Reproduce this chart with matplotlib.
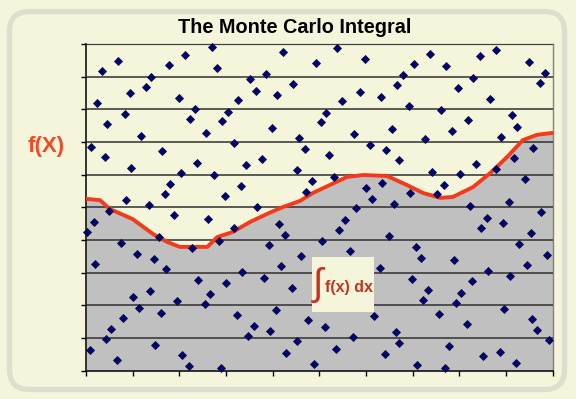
import matplotlib
matplotlib.use("Agg")
import matplotlib.pyplot as plt
from matplotlib.patches import FancyBboxPatch, Rectangle
import numpy as np

# ---------------- data ----------------
# random points thrown into the box
pts_x = [0.35, 0.69, 2.71, 2.12, 1.78, 2.81, 1.39, 1.29, 0.94, 0.24,
         1.99, 3.26, 2.34, 3.05, 0.83, 2.22, 2.92, 0.46, 2.58, 1.18,
         3.16, 0.10, 1.63, 0.40, 2.38, 0.97, 2.04, 2.74, 1.80, 3.31,
         1.69, 2.98, 0.86, 1.34,
         4.21, 5.38, 4.93, 5.97, 3.86, 3.51, 4.44, 6.66, 3.64, 4.10,
         5.86, 6.32, 5.49, 5.14, 5.04, 3.99, 6.56, 4.56, 5.74, 6.08,
         4.69, 6.43, 5.20, 3.78, 3.43, 6.71, 4.51, 5.31, 4.84, 4.72,
         6.00, 6.35, 6.13, 6.59, 3.67, 5.78,
         7.36, 8.44, 8.78, 7.02, 7.71, 9.49, 9.84, 6.80, 8.30, 9.73,
         7.96, 8.66, 6.91, 7.61, 9.13, 8.19, 9.24, 7.85, 7.26, 8.89,
         9.58, 9.17, 8.36, 7.42, 8.01, 8.79, 9.40, 7.66, 6.94, 7.53,
         9.06, 8.23,
         0.50, 0.17, 1.89, 2.62, 0.03, 3.17, 1.56, 0.76, 2.28, 2.85,
         0.19, 1.10, 1.45, 1.71, 3.34, 2.41, 3.00, 1.37, 1.01, 2.65,
         1.96, 1.13, 2.54, 1.61, 3.24, 0.79, 0.54, 0.43, 1.47, 0.09,
         2.06, 0.66, 2.21, 2.89,
         5.55, 4.13, 5.43, 4.26, 6.49, 5.05, 3.92, 5.65, 4.61, 4.18,
         6.30, 3.82, 4.41, 4.08, 6.16, 4.76, 3.59, 5.12, 6.64, 3.94,
         3.47, 5.71, 4.53, 6.70, 5.36, 4.29, 6.40, 4.89,
         9.74, 8.59, 8.94, 8.47, 9.54, 7.08, 9.28, 7.17, 7.88, 9.88,
         9.45, 8.62, 6.99, 9.08, 8.27, 7.33, 8.04, 7.23, 7.92, 8.96,
         7.57, 9.55, 8.16, 9.67, 7.78, 9.91, 8.86, 8.51, 9.21, 7.09,
         7.69]
pts_y = [9.18, 9.49, 9.92, 9.65, 9.36, 9.27, 9.00, 8.69, 8.51, 8.20,
         8.35, 8.28, 8.01, 7.93, 7.86, 7.70, 7.63, 7.54, 7.28, 7.19,
         6.98, 6.86, 6.72, 6.55, 6.36, 6.21, 6.05, 5.99, 5.71, 5.64,
         5.41, 5.34, 5.22, 5.07,
         9.76, 9.89, 9.42, 9.53, 9.08, 8.93, 8.78, 8.74, 8.57, 8.44,
         8.54, 8.39, 8.25, 7.90, 7.60, 7.43, 7.40, 7.13, 7.25, 6.90,
         6.79, 6.75, 6.59, 6.48, 6.29, 6.45, 6.14, 5.94, 5.81, 5.48,
         5.60, 5.75, 5.26, 5.11, 5.01, 4.99,
         9.69, 9.62, 9.81, 9.39, 9.32, 9.46, 9.12, 9.04, 8.97, 8.80,
         8.65, 8.31, 8.10, 7.97, 7.82, 7.66, 7.46, 7.33, 7.09, 7.16,
         6.82, 6.51, 6.32, 6.09, 6.02, 6.16, 5.88, 5.67, 5.45, 5.41,
         5.17, 5.05,
         4.90, 4.55, 4.77, 4.64, 4.25, 4.36, 4.10, 3.92, 3.76, 3.98,
         3.28, 3.57, 3.42, 3.11, 3.01, 2.78, 2.69, 2.44, 2.27, 2.35,
         2.12, 1.93, 2.04, 1.78, 1.70, 1.62, 1.28, 0.98, 0.79, 0.63,
         0.48, 0.32, 0.14, 0.07,
         4.61, 4.50, 4.31, 4.15, 4.12, 3.96, 3.86, 3.65, 3.50, 3.20,
         3.15, 2.84, 2.54, 1.87, 1.67, 1.55, 1.37, 1.33, 1.18, 1.22,
         1.05, 1.02, 0.90, 0.84, 0.66, 0.55, 0.52, 0.21,
         4.87, 4.68, 4.53, 4.37, 4.22, 3.80, 3.88, 3.45, 3.38, 3.53,
         3.23, 3.04, 2.81, 2.89, 2.74, 2.47, 2.38, 2.16, 2.07, 1.90,
         1.74, 1.58, 1.43, 1.24, 0.75, 0.93, 0.58, 0.44, 0.24, 0.17,
         0.09]

# the function f(x)
curve_x = [0.0, 0.30, 0.51, 1.00, 1.44, 1.74, 2.01, 2.60, 2.81, 3.15,
           3.51, 3.88, 4.22, 4.59, 4.86, 5.59, 5.94, 6.45, 6.88, 7.22,
           7.59, 7.86, 8.29, 8.66, 9.02, 9.36, 9.66, 10.0]
curve_y = [5.26, 5.22, 4.95, 4.64, 4.18, 3.94, 3.79, 3.79, 4.09, 4.25,
           4.55, 4.80, 5.01, 5.20, 5.44, 5.93, 5.99, 5.96, 5.68, 5.44,
           5.29, 5.32, 5.62, 6.05, 6.54, 7.06, 7.22, 7.28]

title = "The Monte Carlo Integral"
y_label = "f(X)"

bg = "#F5F5DC"

# ---------------- figure ----------------
fig = plt.figure(figsize=(5.76, 3.99), dpi=100, facecolor=bg)

# rounded frame round the whole chart (behind the axes)
frame = FancyBboxPatch((0.095, 0.095), 5.55, 3.78,
                       boxstyle="round,pad=0,rounding_size=0.2",
                       transform=fig.dpi_scale_trans,
                       facecolor=bg, edgecolor="#DEDDCE", linewidth=3.8,
                       zorder=-5)
fig.patches.append(frame)

ax = fig.add_axes([0.1493, 0.0709, 0.8104, 0.8188])
ax.set_zorder(2)
ax.set_facecolor(bg)
ax.set_xlim(0, 10)
ax.set_ylim(0, 10)

# area under the curve
ax.fill_between(curve_x, curve_y, 0, color="#C0C0C0", lw=0, zorder=1)

# horizontal gridlines
ax.set_yticks(np.arange(0, 11, 1))
ax.set_xticks(np.arange(0, 11, 1))
ax.grid(axis="y", color="#303030", linewidth=1.1, zorder=2)
ax.set_axisbelow(False)
ax.set_xticklabels([])
ax.set_yticklabels([])
ax.tick_params(direction="out", length=3.5, width=1, color="black")

# the curve
ax.plot(curve_x, curve_y, color="#F23B1D", linewidth=2.8, zorder=3,
        solid_capstyle="round")

# random points
ax.plot(pts_x, pts_y, linestyle="none", marker="D", markersize=4.5,
        markerfacecolor="#000080", markeredgecolor="#101030",
        markeredgewidth=0.6, zorder=4, clip_on=False)

# the integral box
ax.add_patch(Rectangle((4.84, 1.80), 1.32, 1.67, facecolor=bg,
                       edgecolor="none", zorder=5))
ax.text(4.96, 2.62, "\u222b", fontsize=27, color="#C8321C",
        ha="center", va="center", family=["Liberation Sans", "DejaVu Sans"],
        zorder=6)
ax.text(5.11, 2.56, "f(x) dx", fontsize=11.5, fontweight="bold",
        color="#C8321C", ha="left", va="center",
        family="Liberation Sans", zorder=6)

for side in ["left", "bottom"]:
    ax.spines[side].set_color("black")
    ax.spines[side].set_linewidth(1.1)
for side in ["top", "right"]:
    ax.spines[side].set_color("#808080")
    ax.spines[side].set_linewidth(1.0)

fig.text(0.512, 0.932, title, ha="center", va="center", fontsize=14.3,
         fontweight="bold", family="Liberation Sans", color="black")
fig.text(0.08, 0.632, y_label, ha="center", va="center", fontsize=16,
         fontweight="bold", family="Liberation Sans", color="#F04B23")

fig.savefig("out.png", dpi=100, facecolor=bg)
